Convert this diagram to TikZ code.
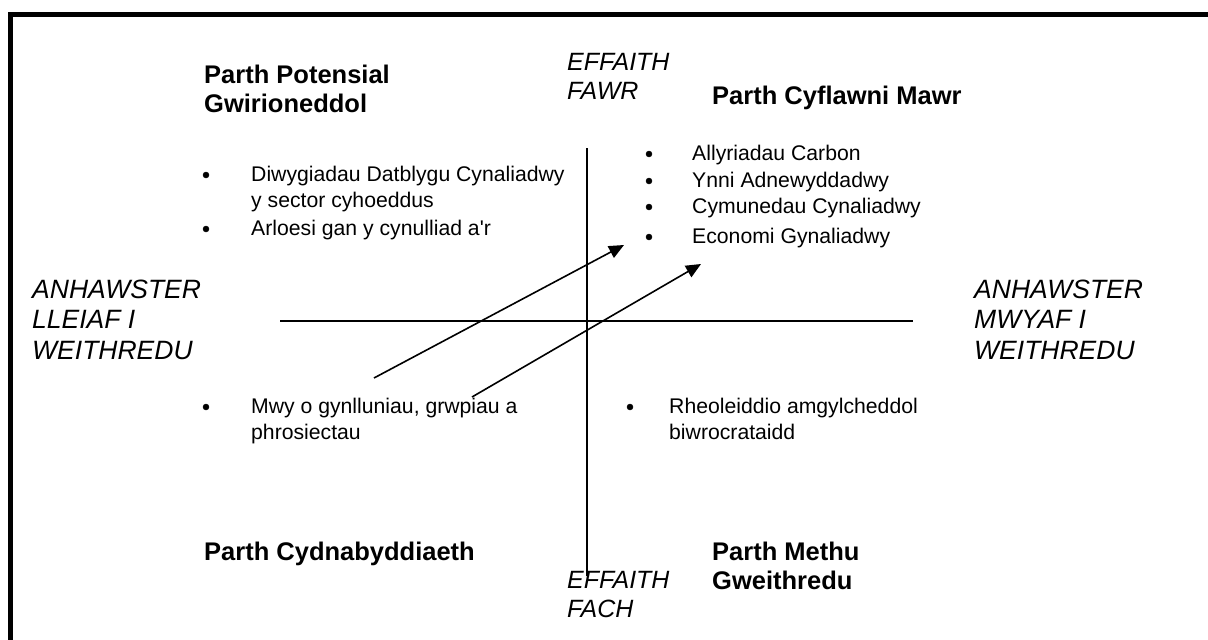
\documentclass[tikz,border=0pt]{standalone}
\usepackage{fontspec}
\setmainfont{Liberation Sans}
\usetikzlibrary{arrows.meta}

\begin{document}
\begin{tikzpicture}[x=1pt,y=-1pt,
  zone/.style={anchor=base west, inner sep=0pt, align=left, font=\fontsize{25.5}{28.5}\selectfont\bfseries},
  effect/.style={anchor=base west, inner sep=0pt, align=left, font=\fontsize{25}{28.5}\selectfont\itshape},
  hard/.style={anchor=base west, inner sep=0pt, align=left, font=\fontsize{26.5}{30.5}\selectfont\itshape},
  item/.style={anchor=base west, inner sep=0pt, align=left, font=\fontsize{21.2}{25.5}\selectfont},
  bul/.style={draw=black, fill=black, circle, minimum size=6pt, inner sep=0pt},
  pointer/.style={line width=1.6pt, -{Triangle[length=15pt,width=13pt]}}]
\useasboundingbox (0,0) rectangle (1208,640);
\clip (0,0) rectangle (1208,640);
% frame, runs off the page on the right and bottom
\draw[line width=5pt] (10,700) -- (10,14.5) -- (1260,14.5);

% axes
\coordinate (axtop) at (587,148);
\coordinate (axbot) at (587,576);
\coordinate (axleft) at (280,321);
\coordinate (axright) at (913,321);
\draw[line width=1.3pt] (axtop) -- (axbot);
\draw[line width=1.3pt] (axleft) -- (axright);

% zone headings (base = last line)
\node[zone] (potensial) at (204,112) {Parth Potensial\\Gwirioneddol};
\node[zone] (cyflawni) at (712,104) {Parth Cyflawni Mawr};
\node[zone] (cydnabyddiaeth) at (204,560) {Parth Cydnabyddiaeth};
\node[zone] (methu) at (712,589) {Parth Methu\\Gweithredu};

% effect and difficulty labels
\node[effect] (fawr) at (567,99) {EFFAITH\\FAWR};
\node[effect] (fach) at (567,617) {EFFAITH\\FACH};
\node[hard] (lleiaf) at (32,359) {ANHAWSTER\\LLEIAF I\\WEITHREDU};
\node[hard] (mwyaf) at (974,359) {ANHAWSTER\\MWYAF I\\WEITHREDU};

% top left items
\node[bul] (b1) at (206,175) {};
\node[item] (diwyg) at (251,207) {Diwygiadau Datblygu Cynaliadwy\\y sector cyhoeddus};
\node[bul] (b2) at (206,229) {};
\node[item] (arloesi) at (251,235) {Arloesi gan y cynulliad a\textquotesingle r};

% top right items
\node[bul] (b3) at (649,154) {};
\node[item] (carbon) at (692,160) {Allyriadau Carbon};
\node[bul] (b4) at (649,181) {};
\node[item] (ynni) at (692,187) {Ynni Adnewyddadwy};
\node[bul] (b5) at (649,207) {};
\node[item] (cymunedau) at (692,213) {Cymunedau Cynaliadwy};
\node[bul] (b6) at (649,237) {};
\node[item] (economi) at (692,243) {Economi Gynaliadwy};

% bottom items
\node[bul] (b7) at (206,407) {};
\node[item] (cynlluniau) at (251,439) {Mwy o gynlluniau, grwpiau a\\phrosiectau};
\node[bul] (b8) at (630,407) {};
\node[item] (rheoleiddio) at (669,439) {Rheoleiddio amgylcheddol\\biwrocrataidd};

% arrows
\coordinate (from1) at (374,378);
\coordinate (to1) at (624,245);
\coordinate (from2) at (472,397);
\coordinate (to2) at (701,264);
\draw[pointer] (from1) -- (to1);
\draw[pointer] (from2) -- (to2);
\end{tikzpicture}
\end{document}
